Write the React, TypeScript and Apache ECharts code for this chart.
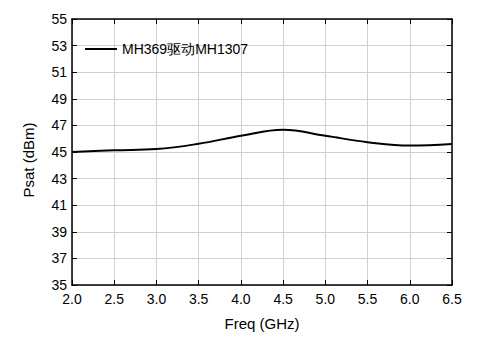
import React, { useEffect, useRef } from "react";
import * as echarts from "echarts";

const freqs = [2.0, 2.5, 3.0, 3.5, 4.0, 4.5, 5.0, 5.5, 6.0, 6.5];
const psat = [45.0, 45.13, 45.22, 45.62, 46.22, 46.68, 46.22, 45.74, 45.48, 45.6];
const seriesName = "MH369驱动MH1307";
const xName = "Freq (GHz)";
const yName = "Psat (dBm)";

export default function App() {
  const ref = useRef<HTMLDivElement>(null);
  useEffect(() => {
    if (!ref.current) return;
    const chart = echarts.init(ref.current, undefined, { renderer: "svg" });
    const font = "Liberation Sans, Arial, sans-serif";
    const axisLine = { show: true, lineStyle: { color: "#000", width: 1.5 } };
    const tick = { show: true, inside: true, length: 5, lineStyle: { color: "#000", width: 1 } };
    chart.setOption({
      animation: false,
      backgroundColor: "#fff",
      grid: { left: 72, right: 40, top: 19, bottom: 55, containLabel: false },
      legend: {
        show: true,
        left: 85,
        top: 42,
        padding: 0,
        itemWidth: 32,
        itemHeight: 2,
        itemGap: 4,
        icon: "rect",
        textStyle: { fontFamily: font, fontSize: 14, color: "#000" },
        data: [seriesName],
      },
      graphic: [
        {
          type: "text",
          x: 28,
          y: 160,
          rotation: Math.PI / 2,
          style: {
            text: yName,
            fontFamily: font,
            fontSize: 15,
            fill: "#000",
            textAlign: "center",
            textVerticalAlign: "middle",
          },
        },
      ],
      xAxis: [
        {
          type: "value",
          min: 2,
          max: 6.5,
          interval: 0.5,
          name: xName,
          nameLocation: "middle",
          nameGap: 31,
          nameTextStyle: { fontFamily: font, fontSize: 15, color: "#000" },
          axisLine,
          axisTick: tick,
          axisLabel: {
            fontFamily: font,
            fontSize: 14,
            color: "#000",
            margin: 7,
            formatter: (v: number) => v.toFixed(1),
          },
          splitLine: { show: true, lineStyle: { color: "#d0d0d0", width: 1 } },
        },
        {
          type: "value",
          position: "top",
          min: 2,
          max: 6.5,
          interval: 0.5,
          axisLine,
          axisTick: tick,
          axisLabel: { show: false },
          splitLine: { show: false },
        },
      ],
      yAxis: [
        {
          type: "value",
          min: 35,
          max: 55,
          interval: 2,
          axisLine,
          axisTick: tick,
          axisLabel: { fontFamily: font, fontSize: 14, color: "#000", margin: 5 },
          splitLine: { show: true, lineStyle: { color: "#d0d0d0", width: 1 } },
        },
        {
          type: "value",
          position: "right",
          min: 35,
          max: 55,
          interval: 2,
          axisLine,
          axisTick: tick,
          axisLabel: { show: false },
          splitLine: { show: false },
        },
      ],
      series: [
        {
          name: seriesName,
          type: "line",
          smooth: 0.4,
          showSymbol: false,
          symbol: "none",
          lineStyle: { color: "#000", width: 2 },
          itemStyle: { color: "#000" },
          data: freqs.map((f, i) => [f, psat[i]]),
        },
      ],
    });
    return () => chart.dispose();
  }, []);
  return <div ref={ref} style={{ width: 492, height: 340, margin: -8 }} />;
}
